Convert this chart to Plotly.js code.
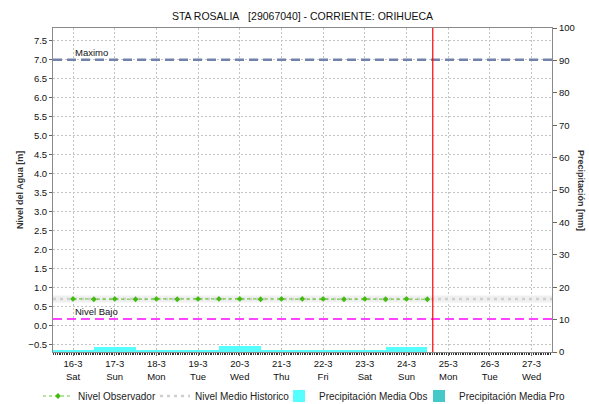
<!DOCTYPE html>
<html><head><meta charset="utf-8">
<script src="https://cdn.plot.ly/plotly-3.0.1.min.js"></script>
<style>html,body{margin:0;padding:0;background:#fff}#chart{width:589px;height:404px}</style>
</head><body><div id="chart"></div>
<script>
// ---- data ----
const dayTicks = [16, 17, 18, 19, 20, 21, 22, 23, 24, 25, 26, 27];
const dayLabels = ['16-3', '17-3', '18-3', '19-3', '20-3', '21-3', '22-3', '23-3', '24-3', '25-3', '26-3', '27-3'];
const weekdays = ['Sat', 'Sun', 'Mon', 'Tue', 'Wed', 'Thu', 'Fri', 'Sat', 'Sun', 'Mon', 'Tue', 'Wed'];
const obsTimes = [16, 16.5, 17, 17.5, 18, 18.5, 19, 19.5, 20, 20.5, 21, 21.5, 22, 22.5, 23, 23.5, 24, 24.5];
const obsLevels = [0.70, 0.69, 0.70, 0.69, 0.70, 0.69, 0.70, 0.70, 0.70, 0.69, 0.70, 0.70, 0.70, 0.69, 0.70, 0.69, 0.70, 0.69];
const histLevel = 0.70;
const maxLevel = 7.0;
const lowLevel = 0.17;
const nowTime = 24.63;
const precipDays = [16, 17, 18, 19, 20, 21, 22, 23, 24];
const precipObs = [0.6, 1.6, 0.55, 0.55, 1.9, 0.6, 0.6, 0.6, 1.6];
const precipProDays = [25, 26, 27];
const precipPro = [0, 0, 0];
const xRange = [15.52, 27.49];
const yRange = [-0.70, 7.84];

const FONT = 'Liberation Sans, Arial, sans-serif';
const tickText = dayLabels.map((d, i) => d + '<br>' + weekdays[i]);

const traces = [
  {
    x: precipDays, y: precipObs, type: 'bar', yaxis: 'y2', width: 1,
    name: 'Precipitación Media Obs', legend: 'legend3',
    marker: {color: '#55ffff', line: {width: 0}},
    hoverinfo: 'skip'
  },
  {
    x: precipProDays, y: precipPro, type: 'bar', yaxis: 'y2', width: 1,
    name: 'Precipitación Media Pro', legend: 'legend4',
    marker: {color: '#44c8c8', line: {width: 0}},
    hoverinfo: 'skip'
  },
  {
    x: xRange, y: [histLevel, histLevel], type: 'scatter', mode: 'lines',
    line: {color: '#f0f0f0', width: 7}, showlegend: false, hoverinfo: 'skip'
  },
  {
    x: xRange, y: [histLevel, histLevel], type: 'scatter', mode: 'lines',
    name: 'Nivel Medio Historico', legend: 'legend2',
    line: {color: '#cfcfcf', width: 2.5, dash: '3px,4px'}
  },
  {
    x: obsTimes, y: obsLevels, type: 'scatter', mode: 'lines+markers',
    name: 'Nivel Observador', legend: 'legend',
    line: {color: '#66cc33', width: 1.2, dash: '3px,3px'},
    marker: {color: '#44bb11', size: 4.5, symbol: 'diamond'}
  }
];

function legendAt(px) {
  return {
    orientation: 'h', xref: 'container', yref: 'container',
    x: px / 589, xanchor: 'left', y: 8 / 404, yanchor: 'middle',
    font: {family: FONT, size: 10, color: '#222'},
    itemwidth: 30, bgcolor: 'rgba(0,0,0,0)', borderwidth: 0
  };
}

const layout = {
  width: 589, height: 404,
  margin: {l: 53, r: 37, t: 28, b: 51.5, pad: 0},
  paper_bgcolor: '#ffffff', plot_bgcolor: '#ffffff',
  font: {family: FONT, size: 9, color: '#222'},
  showlegend: true,
  bargap: 0,
  barmode: 'overlay',
  title: {
    text: 'STA ROSALIA&nbsp;&nbsp;&nbsp;[29067040] - CORRIENTE: ORIHUECA',
    font: {family: FONT, size: 10.5, color: '#111'},
    xref: 'paper', x: 0.5, xanchor: 'center',
    yref: 'container', y: 1 - 16 / 404, yanchor: 'middle'
  },
  xaxis: {
    range: xRange, tickmode: 'array', tickvals: dayTicks, ticktext: tickText,
    showgrid: true, gridcolor: '#c4c4c4', griddash: '2px,2px', gridwidth: 1,
    zeroline: false, showline: true, linecolor: '#8a8a8a', linewidth: 1, mirror: true,
    ticks: 'outside', ticklen: 3, tickcolor: '#666',
    tickfont: {family: FONT, size: 9.5, color: '#111'},
    minor: {tickmode: 'linear', tick0: 15.5, dtick: 1 / 24, ticks: 'outside', ticklen: 2, tickcolor: '#333', showgrid: false}
  },
  yaxis: {
    range: yRange, dtick: 0.5, tick0: 0, tickformat: '.1f',
    showgrid: true, gridcolor: '#c4c4c4', griddash: '2px,2px', gridwidth: 1,
    zeroline: false, showline: true, linecolor: '#8a8a8a', linewidth: 1,
    ticks: 'outside', ticklen: 3, tickcolor: '#666',
    tickfont: {family: FONT, size: 9.5, color: '#111'}
  },
  yaxis2: {
    overlaying: 'y', side: 'right', range: [0, 100], dtick: 10,
    showgrid: false, zeroline: false, showline: true, linecolor: '#8a8a8a', linewidth: 1,
    ticks: 'outside', ticklen: 4, tickcolor: '#666',
    tickfont: {family: FONT, size: 9.5, color: '#111'}
  },
  legend: legendAt(38),
  legend2: legendAt(155),
  legend3: legendAt(279),
  legend4: legendAt(419),
  shapes: [
    {type: 'line', xref: 'paper', x0: 0, x1: 1, yref: 'y', y0: maxLevel, y1: maxLevel,
     line: {color: '#7282aa', width: 2.5, dash: '9px,5px'}},
    {type: 'line', xref: 'paper', x0: 0, x1: 1, yref: 'y', y0: lowLevel, y1: lowLevel,
     line: {color: '#ff44ff', width: 2, dash: '9px,5px'}},
    {type: 'line', xref: 'x', x0: nowTime, x1: nowTime, yref: 'paper', y0: 0, y1: 1,
     line: {color: '#ff0000', width: 1.2}}
  ],
  annotations: [
    {text: 'Maximo', xref: 'x', x: dayTicks[0], xanchor: 'left', yref: 'y', y: maxLevel,
     yanchor: 'bottom', yshift: 0, showarrow: false, font: {family: FONT, size: 9.5, color: '#111'}},
    {text: 'Nivel Bajo', xref: 'x', x: dayTicks[0], xanchor: 'left', yref: 'y', y: lowLevel,
     yanchor: 'bottom', yshift: 0, showarrow: false, font: {family: FONT, size: 9.5, color: '#111'}},
    {text: '<b>Nivel del Agua [m]</b>', xref: 'paper', x: 0, xanchor: 'center', xshift: -33,
     yref: 'paper', y: 0.5, yanchor: 'middle', textangle: -90, showarrow: false,
     font: {family: FONT, size: 9, color: '#333'}},
    {text: '<b>Precipitación [mm]</b>', xref: 'paper', x: 1, xanchor: 'center', xshift: 29,
     yref: 'paper', y: 0.5, yanchor: 'middle', textangle: 90, showarrow: false,
     font: {family: FONT, size: 9, color: '#333'}}
  ]
};

Plotly.newPlot('chart', traces, layout, {displayModeBar: false, staticPlot: true});
</script>
</body></html>
